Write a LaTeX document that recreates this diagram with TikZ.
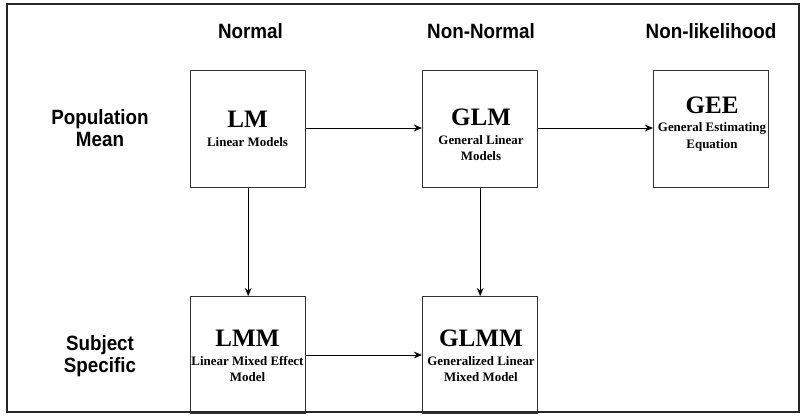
\documentclass[tikz,border=0pt]{standalone}
\usepackage{fontspec}
\setmainfont{Liberation Serif}
\newfontfamily\headfont{Liberation Sans}
\usetikzlibrary{arrows.meta}
\newcommand{\tallhead}[1]{\scalebox{1}[1.1]{#1}}
\begin{document}
\begin{tikzpicture}[x=0.75pt,y=-0.75pt,
  modelbox/.style={draw=black!80,line width=0.8pt,minimum width=86.5pt,minimum height=87.5pt,anchor=north west,inner sep=0pt},
  head/.style={font=\headfont\bfseries\fontsize{14.1}{16}\selectfont,anchor=base,inner sep=0pt},
  title/.style={font=\bfseries\fontsize{18.8}{20}\selectfont,anchor=base,inner sep=0pt},
  sub/.style={font=\bfseries\fontsize{9.7}{11}\selectfont,anchor=base,inner sep=0pt},
  flow/.style={draw=black,line width=0.6pt,-{Stealth[length=6pt,width=5pt]}}]
\useasboundingbox (0,0) rectangle (804,416);
\fill[white] (0,0) rectangle (804,416);
% outer frame
\draw[line width=1.6pt,black!85] (7,4) rectangle (799,412);
% column headings
\node[head] (hnorm) at (250.5,39) {\tallhead{Normal}};
\node[head] (hnon) at (481,39) {\tallhead{Non-Normal}};
\node[head] (hnl) at (711,39) {\tallhead{Non-likelihood}};
% row headings
\node[head] (hpop1) at (100,125) {\tallhead{Population}};
\node[head] (hpop2) at (100,146.7) {\tallhead{Mean}};
\node[head] (hsub1) at (100,351) {\tallhead{Subject}};
\node[head] (hsub2) at (100,373) {\tallhead{Specific}};
% model boxes
\node[modelbox] (lm) at (190,70) {};
\node[modelbox] (glm) at (422,70) {};
\node[modelbox] (gee) at (653,70) {};
\node[modelbox] (lmm) at (190,296) {};
\node[modelbox] (glmm) at (422,296) {};
% box texts
\node[title] (tlm) at (247.5,128) {LM};
\node[sub] (slm) at (247.5,147) {Linear Models};
\node[title] (tglm) at (481,126) {GLM};
\node[sub] (sglm1) at (481,145) {General Linear};
\node[sub] (sglm2) at (481,160.5) {Models};
\node[title] (tgee) at (712,113.3) {GEE};
\node[sub] (sgee1) at (712,132) {General Estimating};
\node[sub] (sgee2) at (712,148.3) {Equation};
\node[title] (tlmm) at (247.5,346.7) {LMM};
\node[sub] (slmm1) at (247.5,366) {Linear Mixed Effect};
\node[sub] (slmm2) at (247.5,381.7) {Model};
\node[title] (tglmm) at (481,346.7) {GLMM};
\node[sub] (sglmm1) at (481,366) {Generalized Linear};
\node[sub] (sglmm2) at (481,381.7) {Mixed Model};
% connectors
\draw[flow] (lm.east |- 0,128) -- (glm.west |- 0,128);
\draw[flow] (glm.east |- 0,128) -- (gee.west |- 0,128);
\draw[flow] (lm.south) -- (lmm.north);
\draw[flow] (glm.south) -- (glmm.north);
\draw[flow] (lmm.east |- 0,355) -- (glmm.west |- 0,355);
\end{tikzpicture}
\end{document}
